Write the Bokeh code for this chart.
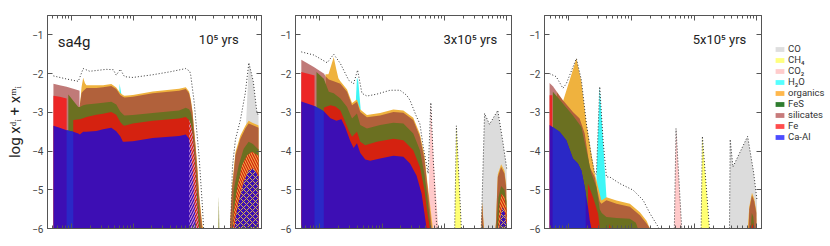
import numpy as np
from bokeh.plotting import figure
from bokeh.models import Range1d, FixedTicker, LogAxis, LinearAxis, Legend, LegendItem
from bokeh.layouts import row
from bokeh.embed import file_html
from bokeh.resources import INLINE
from bokeh.core.properties import value

# ---------------- data (x stored as log10 of radius in AU, y as log abundance) -------------
EPOCHS = ["10\u2075 yrs", "3x10\u2075 yrs", "5x10\u2075 yrs"]
MODEL = "sa4g"
LEGEND_LABELS = ["CO", "CH\u2084", "CO\u2082", "H\u2082O", "organics", "FeS", "silicates", "Fe", "Ca-Al"]
LEGEND_COLORS = ["#dedede", "#ffff80", "#ffcccc", "#55ffff", "#ffb84d", "#2f7d2f", "#c77b7b", "#ff4d4d", "#4d4dff"]
X_TICKS = [1, 10, 100, 1000]
Y_TICKS = [-6, -5, -4, -3, -2, -1]

# ---- panel 1 (1e5 yr)
P1_TOTAL_A_LR = [-0.294, -0.080, 0.108, 0.145, 0.188, 0.294, 0.402, 0.563, 0.675, 0.723, 0.788, 0.857, 0.992, 1.314, 1.608, 1.849, 1.913, 1.929, 1.982, 2.063, 2.117, 2.138]
P1_TOTAL_A = [-2.06, -2.14, -2.20, -2.05, -1.87, -1.94, -1.92, -1.89, -1.90, -2.04, -1.89, -2.08, -2.10, -2.03, -1.95, -1.87, -1.94, -2.04, -2.70, -4.11, -5.40, -6.0]
P1_TOTAL_B_LR = [2.572, 2.605, 2.653, 2.733, 2.813, 2.870, 2.942, 2.998, 3.027]
P1_TOTAL_B = [-6.0, -4.40, -3.70, -3.20, -2.50, -1.72, -2.20, -2.97, -3.10]
P1_CO_LR = [2.822, 2.870, 2.942, 2.998, 3.027]
P1_CO = [-3.40, -1.72, -2.20, -2.97, -3.10]
P1_H2O_LR = [0.770, 0.777, 0.844]
P1_H2O = [-2.90, -2.26, -2.90]
P1_ORG_A_LR = [0.133, 0.161, 0.188, 0.217, 0.241, 0.402, 0.510, 0.643, 0.723, 0.788, 0.831, 0.857, 0.992, 1.314, 1.741, 1.849, 1.902, 1.929, 1.957, 1.982, 2.010, 2.037, 2.063, 2.090, 2.117, 2.133]
P1_ORG_A = [-2.86, -2.35, -2.11, -2.25, -2.30, -2.30, -2.30, -2.27, -2.36, -2.50, -2.55, -2.57, -2.55, -2.46, -2.39, -2.35, -2.46, -2.65, -2.95, -3.40, -3.88, -4.42, -5.05, -5.50, -5.90, -6.00]
P1_ORG_B_LR = [2.564, 2.600, 2.653, 2.733, 2.813, 2.867, 2.926, 3.002, 3.027]
P1_ORG_B = [-6.0, -4.88, -4.03, -3.60, -3.35, -3.22, -3.27, -3.32, -3.34]
P1_ROSY_LR = [-0.294, -0.193, -0.080, 0.027, 0.108, 0.129]
P1_ROSY = [-2.26, -2.30, -2.34, -2.39, -2.43, -2.44]
P1_SIL_A_LR = [0.129, 0.161, 0.188, 0.241, 0.402, 0.510, 0.643, 0.723, 0.788, 0.831, 0.857, 0.992, 1.314, 1.741, 1.849, 1.902, 1.929, 1.957, 1.982, 2.010, 2.037, 2.063, 2.090, 2.117]
P1_SIL_A = [-2.86, -2.50, -2.45, -2.37, -2.37, -2.35, -2.32, -2.40, -2.55, -2.60, -2.62, -2.60, -2.51, -2.44, -2.40, -2.51, -2.70, -3.00, -3.45, -3.94, -4.50, -5.14, -5.60, -6.00]
P1_SIL_B_LR = [2.564, 2.600, 2.653, 2.733, 2.813, 2.867, 2.926, 3.002, 3.027]
P1_SIL_B = [-6.0, -4.97, -4.11, -3.68, -3.42, -3.29, -3.33, -3.38, -3.40]
P1_FES_A_LR = [-0.053, 0.027, 0.108, 0.133, 0.188, 0.241, 0.402, 0.510, 0.643, 0.723, 0.788, 0.831, 0.857, 0.992, 1.314, 1.741, 1.849, 1.902, 1.929, 1.957, 1.982, 2.010, 2.037, 2.063, 2.090]
P1_FES_A = [-2.54, -2.70, -2.86, -2.86, -2.82, -2.80, -2.77, -2.75, -2.73, -2.80, -2.98, -3.05, -3.08, -3.07, -3.02, -2.95, -2.88, -2.92, -3.00, -3.20, -3.76, -4.30, -4.97, -5.50, -6.00]
P1_FES_B_LR = [2.605, 2.625, 2.706, 2.786, 2.867, 2.937, 3.011, 3.027]
P1_FES_B = [-6.0, -5.00, -4.37, -3.94, -3.76, -3.82, -3.94, -3.95]
P1_FES_C_LR = [2.376, 2.384, 2.392]
P1_FES_C = [-6.0, -5.17, -6.0]
P1_FE_L_LR = [-0.294, -0.193, -0.080]
P1_FE_L = [-2.57, -2.60, -2.64]
P1_FE_A_LR = [0.027, 0.133, 0.188, 0.241, 0.402, 0.510, 0.643, 0.723, 0.788, 0.831, 0.857, 0.992, 1.314, 1.741, 1.849, 1.902, 1.929, 1.957, 1.982, 2.010, 2.037, 2.063]
P1_FE_A = [-3.20, -3.18, -3.15, -3.12, -3.06, -3.04, -2.99, -3.06, -3.25, -3.33, -3.35, -3.29, -3.22, -3.16, -3.12, -3.20, -3.30, -3.50, -3.95, -4.54, -5.40, -6.00]
P1_FE_B_LR = [2.613, 2.625, 2.680, 2.760, 2.841, 2.921, 3.011, 3.027]
P1_FE_B = [-6.0, -5.58, -4.97, -4.37, -4.11, -4.02, -4.11, -4.12]
P1_CAAL_A_LR = [-0.294, -0.193, -0.080, 0.027, 0.108, 0.133, 0.188, 0.241, 0.402, 0.510, 0.643, 0.723, 0.788, 0.831, 0.857, 0.992, 1.314, 1.741, 1.849, 1.902, 1.929, 1.957, 1.982, 2.010, 2.018]
P1_CAAL_A = [-3.35, -3.40, -3.46, -3.50, -3.55, -3.57, -3.50, -3.50, -3.48, -3.44, -3.40, -3.49, -3.62, -3.76, -3.76, -3.75, -3.66, -3.61, -3.57, -3.68, -3.94, -4.37, -5.14, -5.96, -6.00]
P1_CAAL_B_LR = [2.637, 2.653, 2.706, 2.786, 2.867, 2.947, 3.011, 3.027]
P1_CAAL_B = [-6.0, -5.75, -5.31, -4.80, -4.50, -4.45, -4.62, -4.65]
P1_STRIPE_LR = [-0.080, 0.027]
P1_STRIPE = [-3.46, -3.50]

# ---- panel 2 (3e5 yr)
P2_TOTAL_A_LR = [-0.297, -0.096, 0.118, 0.223, 0.330, 0.463, 0.542, 0.606, 0.676, 0.756, 0.915, 1.128, 1.287, 1.394, 1.447, 1.553, 1.606, 1.659, 1.738, 1.781, 1.818, 1.872, 1.885]
P2_TOTAL_A = [-1.44, -1.52, -1.72, -1.50, -1.74, -2.17, -2.26, -1.91, -2.51, -2.58, -2.53, -2.43, -2.43, -2.56, -2.69, -3.12, -3.30, -3.89, -4.58, -2.75, -4.15, -5.87, -6.0]
P2_CO_LR = [2.590, 2.643, 2.722, 2.855, 2.935, 2.998]
P2_CO = [-6.0, -3.03, -3.31, -2.95, -3.75, -4.45]
P2_CH4_LR = [2.164, 2.191, 2.271]
P2_CH4 = [-6.0, -3.35, -6.0]
P2_CO2_LR = [1.741, 1.754, 1.781, 1.829, 1.901]
P2_CO2 = [-6.0, -4.60, -2.75, -4.30, -6.0]
P2_H2O_LR = [0.569, 0.596, 0.617, 0.665]
P2_H2O = [-3.00, -2.10, -2.20, -3.10]
P2_ORG_A_LR = [0.091, 0.139, 0.171, 0.223, 0.266, 0.298, 0.330, 0.437, 0.517, 0.596, 0.649, 0.756, 0.968, 1.180, 1.340, 1.499, 1.606, 1.678, 1.718, 1.766, 1.814]
P2_ORG_A = [-2.02, -2.02, -1.85, -1.58, -1.90, -2.12, -2.20, -2.41, -2.76, -2.67, -2.93, -3.07, -3.02, -2.93, -2.95, -3.14, -3.56, -4.10, -4.70, -5.35, -6.00]
P2_ORG_B_LR = [2.818, 2.826, 2.855, 2.909, 2.962, 2.989, 2.998]
P2_ORG_B = [-6.0, -5.80, -4.60, -4.34, -4.51, -4.86, -6.0]
P2_ORG_C_LR = [2.593, 2.603, 2.635]
P2_ORG_C = [-6.0, -5.30, -6.0]
P2_ROSY_LR = [-0.297, -0.096, 0.064, 0.091]
P2_ROSY = [-1.64, -1.83, -2.00, -2.06]
P2_SIL_A_LR = [0.091, 0.144, 0.223, 0.330, 0.437, 0.517, 0.596, 0.649, 0.756, 0.968, 1.180, 1.340, 1.499, 1.606, 1.678, 1.718, 1.766, 1.797]
P2_SIL_A = [-2.07, -2.15, -2.20, -2.26, -2.47, -2.82, -2.73, -2.99, -3.13, -3.08, -2.99, -3.01, -3.20, -3.63, -4.20, -4.80, -5.50, -6.00]
P2_SIL_B_LR = [2.818, 2.826, 2.855, 2.909, 2.962, 2.989, 2.998]
P2_SIL_B = [-6.0, -5.87, -4.67, -4.41, -4.58, -4.93, -6.0]
P2_SIL_C_LR = [2.593, 2.603, 2.630]
P2_SIL_C = [-6.0, -5.36, -6.0]
P2_FES_A_LR = [-0.053, 0.064, 0.144, 0.223, 0.330, 0.437, 0.517, 0.596, 0.649, 0.756, 0.968, 1.180, 1.340, 1.499, 1.606, 1.678, 1.718, 1.766, 1.781]
P2_FES_A = [-1.96, -2.13, -2.47, -2.51, -2.64, -2.86, -3.16, -3.03, -3.33, -3.42, -3.33, -3.27, -3.29, -3.55, -3.98, -4.60, -5.10, -5.80, -6.00]
P2_FES_B_LR = [2.833, 2.866, 2.909, 2.962, 2.994, 2.998]
P2_FES_B = [-6.0, -5.20, -4.90, -5.00, -5.30, -6.0]
P2_FE_L_LR = [-0.297, -0.096, -0.085]
P2_FE_L = [-1.96, -2.04, -2.05]
P2_FE_A_LR = [0.064, 0.091, 0.171, 0.250, 0.330, 0.410, 0.463, 0.517, 0.596, 0.649, 0.729, 0.915, 1.180, 1.340, 1.499, 1.606, 1.678, 1.718, 1.766]
P2_FE_A = [-2.88, -2.86, -2.82, -2.85, -2.95, -3.25, -3.46, -3.63, -3.50, -3.76, -3.85, -3.76, -3.68, -3.72, -3.98, -4.41, -5.00, -5.50, -6.00]
P2_FE_B_LR = [2.858, 2.882, 2.914, 2.962, 2.994, 2.998]
P2_FE_B = [-6.0, -5.40, -5.10, -5.20, -5.50, -6.0]
P2_CAAL_A_LR = [-0.297, -0.096, 0.064, 0.171, 0.266, 0.346, 0.410, 0.490, 0.542, 0.596, 0.649, 0.729, 0.809, 0.968, 1.180, 1.340, 1.447, 1.553, 1.633, 1.678, 1.713]
P2_CAAL_A = [-2.72, -2.83, -2.97, -3.15, -3.22, -3.18, -3.40, -3.75, -3.92, -3.80, -4.05, -4.22, -4.25, -4.19, -4.12, -4.15, -4.32, -4.64, -5.10, -5.60, -6.00]
P2_CAAL_B_LR = [2.882, 2.909, 2.935, 2.970, 2.998]
P2_CAAL_B = [-6.0, -5.60, -5.45, -5.60, -6.0]
P2_STRIPE_LR = [-0.085, 0.064]
P2_STRIPE = [-2.84, -2.97]

# ---- panel 3 (5e5 yr)
P3_TOTAL_A_LR = [-0.309, -0.202, -0.096, -0.042, 0.119, 0.199, 0.279, 0.359, 0.412, 0.439, 0.492, 0.545, 0.599, 0.652, 0.813, 1.026, 1.186, 1.293, 1.426, 1.437]
P3_TOTAL_A = [-2.00, -2.08, -2.38, -2.26, -1.61, -2.17, -3.29, -4.15, -4.58, -4.60, -2.34, -3.72, -4.67, -4.67, -4.84, -5.01, -5.27, -5.61, -5.96, -6.0]
P3_CO_LR = [2.564, 2.575, 2.619, 2.853, 2.949, 3.003]
P3_CO = [-6.0, -3.70, -4.41, -3.62, -4.55, -5.27]
P3_CH4_LR = [2.111, 2.131, 2.244]
P3_CH4 = [-6.0, -3.62, -6.0]
P3_CO2_LR = [1.683, 1.710, 1.801]
P3_CO2 = [-6.0, -3.42, -6.0]
P3_H2O_LR = [0.439, 0.492, 0.545, 0.599]
P3_H2O = [-4.67, -2.34, -3.72, -5.19]
P3_ORG_A_LR = [-0.096, 0.011, 0.119, 0.199, 0.279, 0.359, 0.412, 0.439, 0.519, 0.599, 0.760, 0.973, 1.133, 1.240, 1.293]
P3_ORG_A = [-2.72, -2.17, -1.61, -2.21, -3.29, -4.07, -4.58, -4.75, -5.28, -5.19, -5.28, -5.36, -5.58, -5.80, -6.00]
P3_ORG_B_LR = [2.856, 2.880, 2.923, 2.960, 2.992, 2.995]
P3_ORG_B = [-6.0, -5.44, -5.08, -5.24, -5.54, -6.0]
P3_ROSY_LR = [-0.309, -0.256, -0.202]
P3_ROSY = [-2.24, -2.33, -2.45]
P3_SIL_A_LR = [-0.202, -0.096, 0.064, 0.171, 0.252, 0.332, 0.412, 0.444, 0.492, 0.519, 0.599, 0.760, 0.973, 1.133, 1.240, 1.293]
P3_SIL_A = [-2.45, -2.69, -2.99, -3.16, -3.55, -4.41, -4.67, -4.95, -5.30, -5.36, -5.27, -5.36, -5.44, -5.66, -5.87, -6.00]
P3_SIL_B_LR = [2.869, 2.880, 2.923, 2.960, 2.992, 2.994]
P3_SIL_B = [-6.0, -5.50, -5.14, -5.30, -5.60, -6.0]
P3_FES_A_LR = [-0.256, -0.096, 0.064, 0.199, 0.279, 0.359, 0.439, 0.492, 0.524, 0.599, 0.760, 0.973, 1.069, 1.101]
P3_FES_A = [-2.47, -2.77, -3.08, -3.38, -3.98, -4.58, -4.93, -5.50, -5.60, -5.70, -5.73, -5.75, -5.85, -6.00]
P3_FES_B_LR = [2.904, 2.920, 2.944, 2.960]
P3_FES_B = [-6.0, -5.60, -5.70, -6.0]
P3_FE_L_LR = [-0.309, -0.266]
P3_FE_L = [-2.56, -2.56]
P3_FE_A_LR = [0.304, 0.385, 0.465, 0.492, 0.494]
P3_FE_A = [-4.84, -5.19, -5.61, -5.95, -6.0]
P3_FE_B_LR = [0.636, 0.652, 0.668]
P3_FE_B = [-6.0, -5.88, -6.0]
P3_FE_C_LR = [2.912, 2.928, 2.944]
P3_FE_C = [-6.0, -5.85, -6.0]
P3_CAAL_LR = [-0.309, -0.149, -0.042, 0.064, 0.144, 0.199, 0.252, 0.304, 0.332, 0.359]
P3_CAAL = [-3.33, -3.50, -3.72, -4.19, -4.32, -4.50, -4.93, -5.44, -5.79, -6.00]
P3_STRIPE_LR = [-0.261, -0.149, -0.042, 0.064, 0.144, 0.199, 0.252, 0.268]
P3_STRIPE = [-3.38, -3.50, -3.72, -4.19, -4.32, -4.50, -4.93, -5.08]

# ---------------- style ----------------
C_CO = "#dcdcdc"; C_CH4 = "#ffff73"; C_CO2 = "#ffc9c9"; C_H2O = "#3ef6f6"
C_ORG = "#efb23e"; C_SIL = "#b1613b"; C_ROSY = "#c07a78"; C_FES = "#6b7021"
C_FE = "#d52210"; C_FE_L = "#ec2626"; C_CAAL = "#3d0eb4"; C_STRIPE = "#2a28c6"
FLOOR = -6.5
XMIN, XMAX = 10 ** -0.39, 10 ** 3.075
FONT = "Roboto"
AX = "#555555"
H = 244


def rr(lr):
    return [10.0 ** v for v in lr]


def fill(p, lr, y, color, hatch=None, hcolor=None, hscale=6.0, alpha=1.0):
    kw = {}
    if hatch:
        kw = dict(hatch_pattern=hatch, hatch_color=hcolor, hatch_scale=hscale, hatch_weight=1.0)
    p.varea(x=rr(lr), y1=[FLOOR] * len(lr), y2=y, fill_color=color, fill_alpha=alpha, **kw)


def dots(p, lr, y):
    p.line(x=rr(lr), y=y, line_color="#333333", line_width=1.0, line_dash="1 2")


def style_axis(ax, labels, ticks):
    ax.major_tick_in = 5
    ax.major_tick_out = 0
    ax.minor_tick_in = 3
    ax.minor_tick_out = 0
    ax.axis_line_color = AX
    ax.major_tick_line_color = AX
    ax.minor_tick_line_color = AX
    if labels:
        ax.major_label_text_font = FONT
        ax.major_label_text_font_size = "10px"
        ax.major_label_text_color = "#444444"
        ax.major_label_standoff = 4
    else:
        ax.major_label_overrides = {t: "" for t in ticks}
        ax.major_label_text_font_size = "1px"
        ax.major_label_standoff = 0


minor = [m * d for d in (0.1, 1, 10, 100) for m in range(2, 10)]
xticker = FixedTicker(ticks=X_TICKS, minor_ticks=minor)
yticker = FixedTicker(ticks=Y_TICKS, minor_ticks=[])


def make_fig(width, left, title):
    p = figure(width=width, height=H, x_axis_type="log",
               x_range=Range1d(XMIN, XMAX), y_range=Range1d(-6, -0.5),
               output_backend="svg", toolbar_location=None,
               min_border_left=left, min_border_right=2, min_border_top=15, min_border_bottom=16)
    p.grid.visible = False
    p.outline_line_color = AX
    p.xaxis.ticker = xticker
    p.yaxis.ticker = yticker
    style_axis(p.xaxis[0], False, X_TICKS)
    style_axis(p.yaxis[0], True, Y_TICKS)
    top = LogAxis(ticker=xticker)
    style_axis(top, False, X_TICKS)
    p.add_layout(top, "above")
    right = LinearAxis(ticker=yticker)
    style_axis(right, False, Y_TICKS)
    p.add_layout(right, "right")
    if title:
        p.yaxis[0].axis_label = "log x\u1d48\u1d62 + x\u1d50\u1d62"
        p.yaxis[0].axis_label_text_font = FONT
        p.yaxis[0].axis_label_text_font_size = "15px"
        p.yaxis[0].axis_label_text_font_style = "normal"
        p.yaxis[0].axis_label_text_color = "#222222"
        p.yaxis[0].axis_label_standoff = 5
    return p


def epoch_label(p, lr, text):
    p.text(x=[10 ** lr], y=[-1.11], text=[text], text_font=value(FONT),
           text_font_size=value("13px"), text_align="right", text_baseline="alphabetic",
           text_color="#222222")


# ---------------- panel 1 ----------------
p1 = make_fig(263, 47, True)
fill(p1, P1_CO_LR, P1_CO, C_CO)
fill(p1, P1_H2O_LR, P1_H2O, C_H2O)
fill(p1, P1_ORG_A_LR, P1_ORG_A, C_ORG)
fill(p1, P1_ORG_B_LR, P1_ORG_B, C_ORG)
fill(p1, P1_ROSY_LR, P1_ROSY, C_ROSY)
fill(p1, P1_SIL_A_LR, P1_SIL_A, C_SIL)
fill(p1, P1_SIL_B_LR, P1_SIL_B, C_SIL)
fill(p1, P1_FES_A_LR, P1_FES_A, C_FES)
fill(p1, P1_FES_B_LR, P1_FES_B, C_FES)
fill(p1, P1_FES_C_LR, P1_FES_C, "#8a8a30")
fill(p1, P1_FE_L_LR, P1_FE_L, C_FE_L)
fill(p1, P1_FE_A_LR, P1_FE_A, C_FE)
fill(p1, P1_FE_B_LR, P1_FE_B, C_FE, hatch="\\", hcolor="#f2c04a", hscale=5.0)
fill(p1, P1_CAAL_A_LR, P1_CAAL_A, C_CAAL)
fill(p1, P1_CAAL_B_LR, P1_CAAL_B, C_CAAL, hatch="x", hcolor="#d8b050", hscale=6.0)
fill(p1, P1_STRIPE_LR, P1_STRIPE, C_STRIPE)
k = P1_FE_A_LR.index(1.902)
fill(p1, P1_FE_A_LR[k:], P1_FE_A[k:], C_FE, hatch="/", hcolor="#e0a8d8", hscale=5.0, alpha=0.0)
dots(p1, P1_TOTAL_A_LR, P1_TOTAL_A)
dots(p1, P1_TOTAL_B_LR, P1_TOTAL_B)
p1.text(x=[10 ** -0.225], y=[-1.19], text=[MODEL], text_font=value(FONT),
        text_font_size=value("15px"), text_align="left", text_baseline="alphabetic",
        text_color="#222222")
epoch_label(p1, 2.706, EPOCHS[0])

# ---------------- panel 2 ----------------
p2 = make_fig(250, 32, False)
fill(p2, P2_CO_LR, P2_CO, C_CO)
fill(p2, P2_CH4_LR, P2_CH4, C_CH4)
fill(p2, P2_CO2_LR, P2_CO2, C_CO2)
fill(p2, P2_H2O_LR, P2_H2O, C_H2O)
fill(p2, P2_ORG_A_LR, P2_ORG_A, C_ORG)
fill(p2, P2_ORG_B_LR, P2_ORG_B, C_ORG)
fill(p2, P2_ORG_C_LR, P2_ORG_C, C_ORG)
fill(p2, P2_ROSY_LR, P2_ROSY, C_ROSY)
fill(p2, P2_SIL_A_LR, P2_SIL_A, C_SIL)
fill(p2, P2_SIL_B_LR, P2_SIL_B, C_SIL)
fill(p2, P2_SIL_C_LR, P2_SIL_C, C_SIL)
fill(p2, P2_FES_A_LR, P2_FES_A, C_FES)
fill(p2, P2_FES_B_LR, P2_FES_B, C_FES)
fill(p2, P2_FE_L_LR, P2_FE_L, C_FE_L)
fill(p2, P2_FE_A_LR, P2_FE_A, C_FE)
fill(p2, P2_FE_B_LR, P2_FE_B, C_FE, hatch="\\", hcolor="#f2c04a", hscale=5.0)
fill(p2, P2_CAAL_A_LR, P2_CAAL_A, C_CAAL)
fill(p2, P2_CAAL_B_LR, P2_CAAL_B, C_CAAL, hatch="x", hcolor="#d8b050", hscale=6.0)
fill(p2, P2_STRIPE_LR, P2_STRIPE, C_STRIPE)
dots(p2, P2_TOTAL_A_LR, P2_TOTAL_A)
dots(p2, P2_CH4_LR, P2_CH4)
dots(p2, P2_CO_LR, P2_CO)
epoch_label(p2, 2.845, EPOCHS[1])

# ---------------- panel 3 ----------------
p3 = make_fig(250, 31, False)
fill(p3, P3_CO_LR, P3_CO, C_CO)
fill(p3, P3_CH4_LR, P3_CH4, C_CH4)
fill(p3, P3_CO2_LR, P3_CO2, C_CO2)
fill(p3, P3_H2O_LR, P3_H2O, C_H2O)
fill(p3, P3_ORG_A_LR, P3_ORG_A, C_ORG)
fill(p3, P3_ORG_B_LR, P3_ORG_B, C_ORG)
fill(p3, P3_ROSY_LR, P3_ROSY, C_ROSY)
fill(p3, P3_SIL_A_LR, P3_SIL_A, C_SIL)
fill(p3, P3_SIL_B_LR, P3_SIL_B, C_SIL)
fill(p3, P3_FES_A_LR, P3_FES_A, C_FES)
fill(p3, P3_FES_B_LR, P3_FES_B, C_FES)
fill(p3, P3_FE_L_LR, P3_FE_L, C_FE_L)
fill(p3, P3_FE_A_LR, P3_FE_A, C_FE)
fill(p3, P3_FE_B_LR, P3_FE_B, C_FE)
fill(p3, P3_FE_C_LR, P3_FE_C, C_FE)
fill(p3, P3_CAAL_LR, P3_CAAL, C_CAAL)
fill(p3, P3_STRIPE_LR, P3_STRIPE, C_STRIPE)
dots(p3, P3_TOTAL_A_LR, P3_TOTAL_A)
dots(p3, P3_CO2_LR, P3_CO2)
dots(p3, P3_CH4_LR, P3_CH4)
dots(p3, P3_CO_LR, P3_CO)
epoch_label(p3, 2.832, EPOCHS[2])

# ---------------- legend ----------------
p4 = figure(width=67, height=H, output_backend="svg", toolbar_location=None,
            x_axis_type=None, y_axis_type=None, x_range=Range1d(0, 1), y_range=Range1d(0, 1),
            min_border=0, outline_line_color=None)
p4.grid.visible = False
items = []
for lab, col in zip(LEGEND_LABELS, LEGEND_COLORS):
    r = p4.varea(x=[0, 1], y1=[-5, -5], y2=[-5, -5], fill_color=col)
    items.append(LegendItem(label=lab, renderers=[r]))
legend = Legend(items=items, location=(11, 86), glyph_width=11, glyph_height=6,
                label_height=11, spacing=0, padding=2, margin=0, label_standoff=3,
                label_text_font=FONT, label_text_font_size="9.5px", label_text_color="#333333",
                border_line_color=None, background_fill_alpha=0)
p4.add_layout(legend)

layout = row(p1, p2, p3, p4)
open("out.html", "w").write(file_html(layout, INLINE))
